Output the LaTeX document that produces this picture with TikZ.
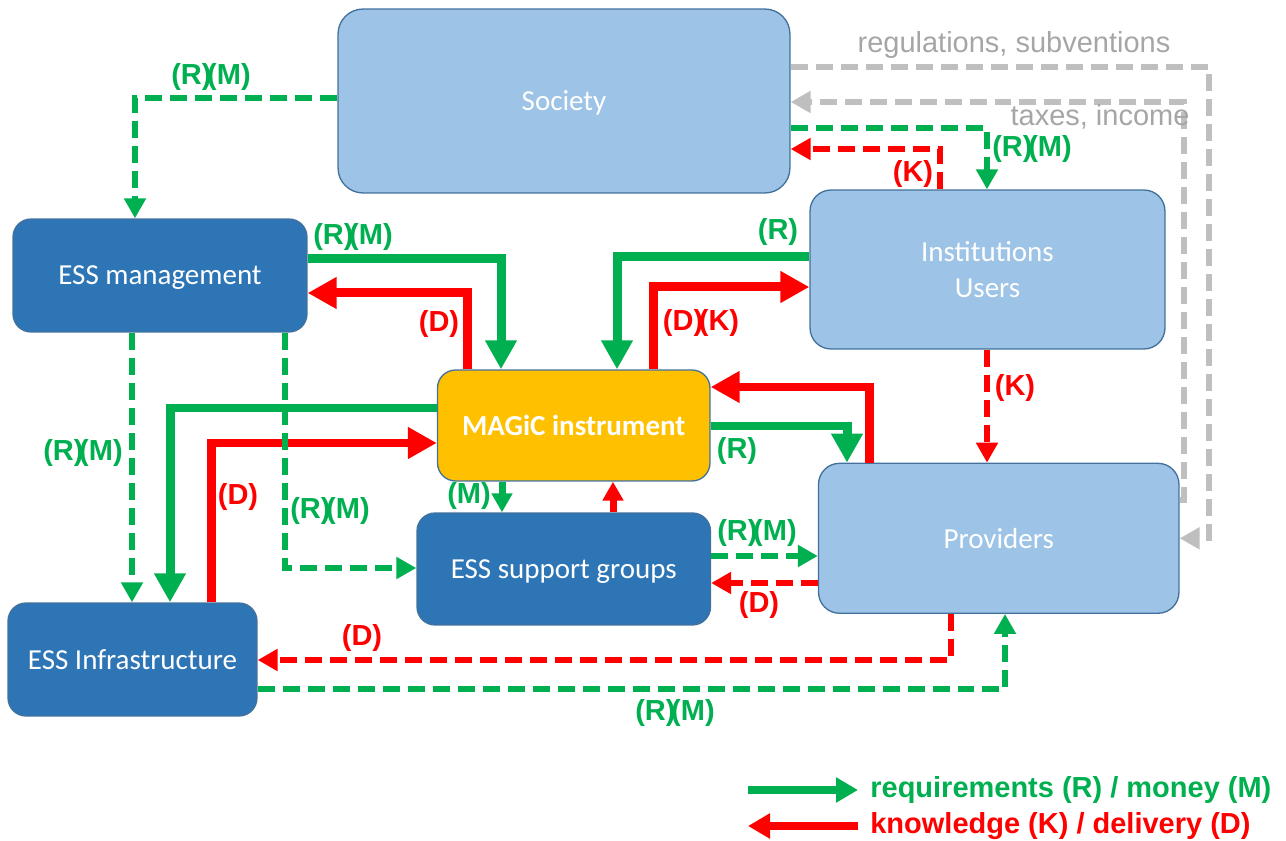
\documentclass[tikz,border=0pt]{standalone}
\usepackage{fontspec}
\setmainfont{Liberation Sans}
\newfontfamily\boxfont{Carlito}
\usetikzlibrary{arrows.meta}

\definecolor{reqgreen}{HTML}{00B050}
\definecolor{delred}{HTML}{FF0000}
\definecolor{govline}{HTML}{BFBFBF}
\definecolor{govtext}{HTML}{A6A6A6}
\definecolor{lightbox}{HTML}{9DC3E6}
\definecolor{darkbox}{HTML}{2E75B6}
\definecolor{boxline}{HTML}{41719C}
\definecolor{magicfill}{HTML}{FFC000}

\newcommand{\rmtag}{(R)\kern-.15em(M)}
\newcommand{\dktag}{(D)\kern-.15em(K)}

\tikzset{
	actor/.style={draw=boxline, line width=0.75pt, text=white, align=center,
		inner sep=0pt, text depth=0pt, font=\boxfont\fontsize{16.5}{20}\selectfont},
	lightactor/.style={actor, fill=lightbox, rounded corners=0.42cm},
	darkactor/.style={actor, fill=darkbox, rounded corners=0.36cm},
	flow/.style={line width=0.18cm, -{Triangle[length=0.58cm,width=0.6cm]}},
	shortflow/.style={line width=0.14cm, -{Triangle[length=0.38cm,width=0.4cm]}},
	dflow/.style={line width=0.12cm, dash pattern=on 0.34cm off 0.16cm,
		-{Triangle[length=0.4cm,width=0.42cm]}},
	govflow/.style={dflow, govline},
	tag/.style={font=\bfseries\fontsize{16.5}{20}\selectfont, inner sep=0pt},
	gtag/.style={tag, text=reqgreen},
	rtag/.style={tag, text=delred},
	govtag/.style={font=\fontsize{16.5}{20}\selectfont, text=govtext, inner sep=0pt}
}

\begin{document}
\begin{tikzpicture}[x=0.02cm, y=-0.02cm]
	\useasboundingbox (0,0) rectangle (1286,841);
	
	% Society
	\node [lightactor,
	rounded corners=0.5cm,
	minimum width=9.04cm,
	minimum height=3.68cm] (society) at (564,101) {Society};
	
	% ESS management
	\node [darkactor,
	minimum width=5.88cm,
	minimum height=2.26cm] (mgmt) at (160,275.5) {ESS management};
	
	% Institutions / users
	\node [lightactor,
	minimum width=7.1cm,
	minimum height=3.18cm] (inst) at (987.5,269.5) {Institutions\\Users};
	
	% MAGiC instrument
	\node [actor,
	fill=magicfill,
	rounded corners=0.36cm,
	font=\boxfont\bfseries\fontsize{16.5}{20}\selectfont,
	minimum width=5.45cm,
	minimum height=2.22cm] (magic) at (573.75,425.5) {MAGiC instrument};
	
	% ESS support groups
	\node [darkactor,
	minimum width=5.87cm,
	minimum height=2.24cm] (support) at (563.75,569) {ESS support groups};
	
	% Providers
	\node [lightactor,
	minimum width=7.21cm,
	minimum height=3.0cm] (prov) at (998.75,538.3) {Providers};
	
	% ESS Infrastructure
	\node [darkactor,
	minimum width=4.98cm,
	minimum height=2.26cm] (infra) at (132.5,659.5) {ESS Infrastructure};
	
	% Society and its partners
	\draw [dflow, reqgreen] (society.west |- 0,98) -| (mgmt.north -| 135,0);
	\node [gtag] (socmgmt) at (211,77) {\rmtag};
	\draw [dflow, reqgreen] (society.east |- 0,128) -| (inst.north -| 987,0);
	\node [gtag] (socinst) at (1032,149) {\rmtag};
	\draw [dflow, delred] (inst.north -| 940,0) |- (society.east |- 0,149);
	\node [rtag] (instsoc) at (913,174) {(K)};
	
	% regulations, taxes
	\draw [govflow] (society.east |- 0,67) -| ([xshift=0.58cm]prov.east) -- (prov.east);
	\node [govtag] (regul) at (1014,45) {regulations, subventions};
	\draw [govflow] (prov.east |- 0,500) -| (1184,102) -- (society.east |- 0,102);
	\node [govtag] (taxes) at (1100,117) {taxes, income};
	
	% ESS management and MAGiC
	\draw [flow, reqgreen] (mgmt.east |- 0,259) -| (magic.north -| 501,0);
	\node [gtag] (mgmtmagic) at (353,237) {\rmtag};
	\draw [flow, delred] (magic.north -| 467,0) |- (mgmt.east |- 0,293);
	\node [rtag] (magicmgmt) at (439,324) {(D)};
	
	% Institutions and MAGiC
	\draw [flow, reqgreen] (inst.west |- 0,257) -| (magic.north -| 617,0);
	\node [gtag] (instmagic) at (778,232) {(R)};
	\draw [flow, delred] (magic.north -| 653,0) |- (inst.west |- 0,287);
	\node [rtag] (magicinst) at (701,323) {\dktag};
	
	% Providers and MAGiC
	\draw [flow, delred] (prov.north -| 869,0) |- (magic.east |- 0,387);
	\draw [flow, reqgreen] (magic.east |- 0,426) -| (prov.north -| 847,0);
	\node [gtag] (magicprov) at (737,451) {(R)};
	
	% ESS Infrastructure and MAGiC
	\draw [flow, reqgreen] (magic.west |- 0,408) -| (infra.north -| 170,0);
	\draw [flow, delred] (infra.north -| 211,0) |- (magic.west |- 0,443);
	\node [rtag] (inframagic) at (238,497) {(D)};
	
	% ESS management downwards
	\draw [dflow, reqgreen] (mgmt.south -| 132,0) -- (infra.north -| 132,0);
	\node [gtag] (mgmtinfra) at (83,453) {\rmtag};
	\draw [dflow, reqgreen] (mgmt.south -| 285,0) |- (support.west |- 0,568);
	\node [gtag] (mgmtsupp) at (330,511) {\rmtag};
	
	% MAGiC and support groups
	\draw [shortflow, reqgreen] (magic.south -| 502,0) -- (support.north -| 502,0);
	\node [gtag] (magicsupp) at (469,496) {(M)};
	\draw [shortflow, delred] (support.north -| 613,0) -- (magic.south -| 613,0);
	
	% support groups and providers
	\draw [dflow, reqgreen] (support.east |- 0,556) -- (prov.west |- 0,556);
	\node [gtag] (suppprov) at (757,533) {\rmtag};
	\draw [dflow, delred] (prov.west |- 0,583) -- (support.east |- 0,583);
	\node [rtag] (provsupp) at (759,605) {(D)};
	
	% Institutions and providers
	\draw [dflow, delred] (inst.south -| 987,0) -- (prov.north -| 987,0);
	\node [rtag] (instprov) at (1015,388) {(K)};
	
	% Providers and ESS Infrastructure
	\draw [dflow, delred] (prov.south -| 951,0) |- (infra.east |- 0,660);
	\node [rtag] (provinfra) at (362,638) {(D)};
	\draw [dflow, reqgreen] (infra.east |- 0,689) -| (prov.south -| 1005,0);
	\node [gtag] (infraprov) at (675,713) {\rmtag};
	
	% legend
	\coordinate (legA) at (748,790);
	\coordinate (legB) at (858,790);
	\coordinate (legC) at (748,826);
	\coordinate (legD) at (858,826);
	\draw [line width=0.17cm, reqgreen, -{Triangle[length=0.44cm,width=0.48cm]}] (legA) -- (legB);
	\draw [line width=0.17cm, delred, -{Triangle[length=0.44cm,width=0.48cm]}] (legD) -- (legC);
	\node [gtag, anchor=west] (legreq) at (870,790) {requirements (R) / money (M)};
	\node [rtag, anchor=west] (legdel) at (870,826) {knowledge (K) / delivery (D)};
	
\end{tikzpicture}
\end{document}
